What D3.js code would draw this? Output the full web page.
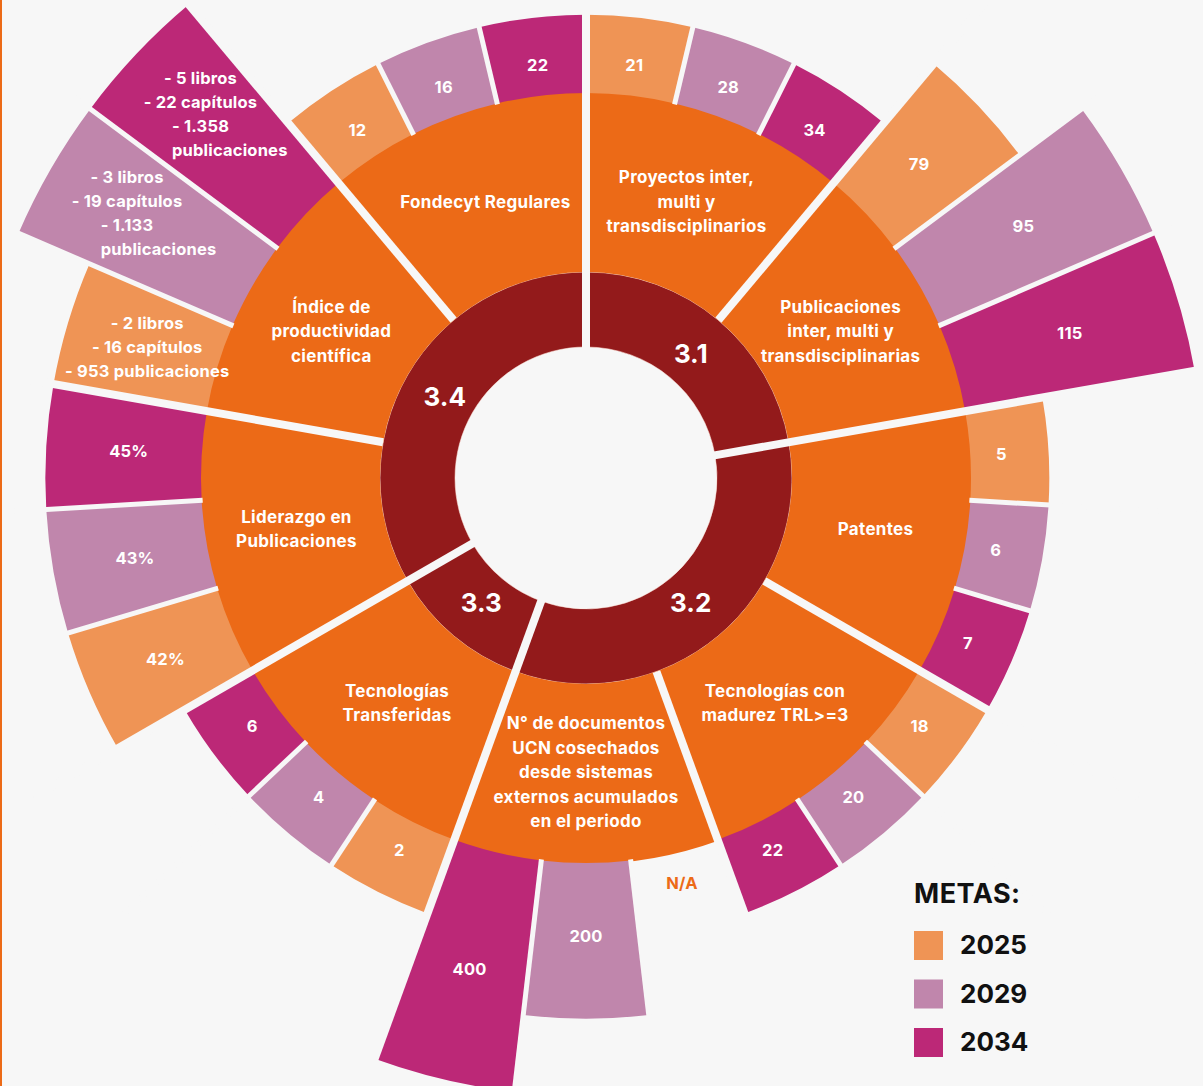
<!DOCTYPE html>
<html>
<head>
<meta charset="utf-8">
<script src="https://cdn.jsdelivr.net/npm/d3@7"></script>
<style>
  html, body { margin: 0; padding: 0; background: #f7f7f7; }
  svg { display: block; }
  text { font-family: Inter, "Open Sans", sans-serif; font-weight: 700; }
</style>
</head>
<body>
<div id="chart"></div>
<script>
// ejes estratégicos (anillo interior)
const groups = ["3.1", "3.2", "3.3", "3.4"];

// indicadores (anillo naranjo), en sentido horario desde arriba
const indicators = [
  "Proyectos", "Publicaciones", "Patentes", "TRL", "Documentos",
  "Transferidas", "Liderazgo", "Indice", "Fondecyt"
];
const indicatorGroup = ["3.1", "3.1", "3.2", "3.2", "3.2", "3.3", "3.4", "3.4", "3.4"];
const indicatorLines = [
  ["Proyectos inter,", "multi y", "transdisciplinarios"],
  ["Publicaciones", "inter, multi y", "transdisciplinarias"],
  ["Patentes"],
  ["Tecnologías con", "madurez TRL>=3"],
  ["N° de documentos", "UCN cosechados", "desde sistemas", "externos acumulados", "en el periodo"],
  ["Tecnologías", "Transferidas"],
  ["Liderazgo en", "Publicaciones"],
  ["Índice de", "productividad", "científica"],
  ["Fondecyt Regulares"]
];

// metas por año
const years = ["2025", "2029", "2034"];
const yearColors = ["#EF9455", "#C086AC", "#BC2877"];
const metas2025 = ["21", "79", "5", "18", "N/A", "2", "42%",
  ["- 2 libros", "- 16 capítulos", "- 953 publicaciones"], "12"];
const metas2029 = ["28", "95", "6", "20", "200", "4", "43%",
  ["- 3 libros", "- 19 capítulos", "- 1.133", "publicaciones"], "16"];
const metas2034 = ["34", "115", "7", "22", "400", "6", "45%",
  ["- 5 libros", "- 22 capítulos", "- 1.358", "publicaciones"], "22"];
// largo de cada barra (nivel 0 = sin barra)
const nivel2025 = [1, 2, 1, 1, 0, 1, 2, 2, 1];
const nivel2029 = [1, 3, 1, 1, 2, 1, 2, 3, 1];
const nivel2034 = [1, 3, 1, 1, 3, 1, 2, 3, 1];

const width = 1203, height = 1086;
const cx = 586, cy = 478;
const rHole = 131, rGroup = 206, rInd = 386, rMax = 618;
const bg = "#f7f7f7", orange = "#EC6A17", darkRed = "#931A1B";

const svg = d3.select("#chart").append("svg")
    .attr("width", width)
    .attr("height", height);

svg.append("rect").attr("width", width).attr("height", height).attr("fill", bg);

const g = svg.append("g").attr("transform", `translate(${cx},${cy})`);

const angle = d3.scaleBand().domain(indicators).range([0, 2 * Math.PI]);
const yearAngle = d3.scaleBand().domain(years).range([0, angle.bandwidth()]);
const radius = d3.scaleLinear().domain([0, 3]).range([rInd, rMax]);
// radio de la etiqueta dentro de cada barra
const labelRadius = d3.scaleLinear().domain([0, 1, 2, 3]).range([416, 416, 458, 505]);

const arc = d3.arc();
const polar = (r, a) => [r * Math.sin(a), -r * Math.cos(a)];

// anillo interior
const groupData = groups.map(name => {
    const idx = indicators.filter((d, i) => indicatorGroup[i] === name);
    return {
        name,
        startAngle: angle(idx[0]),
        endAngle: angle(idx[idx.length - 1]) + angle.bandwidth()
    };
});

g.append("g")
    .selectAll("path")
    .data(groupData)
    .join("path")
    .attr("d", d => arc({innerRadius: rHole, outerRadius: rGroup, startAngle: d.startAngle, endAngle: d.endAngle}))
    .attr("fill", darkRed)
    .attr("stroke", "rgba(255,230,220,0.55)")
    .attr("stroke-width", 1);

// anillo de indicadores
g.append("g")
    .selectAll("path")
    .data(indicators)
    .join("path")
    .attr("d", d => arc({innerRadius: rGroup, outerRadius: rInd, startAngle: angle(d), endAngle: angle(d) + angle.bandwidth()}))
    .attr("fill", orange);

// barras de metas
const metas = [metas2025, metas2029, metas2034];
const niveles = [nivel2025, nivel2029, nivel2034];
const bars = [];
indicators.forEach((ind, i) => {
    years.forEach((y, j) => {
        const a0 = angle(ind) + yearAngle(y);
        bars.push({
            year: j,
            label: metas[j][i],
            nivel: niveles[j][i],
            startAngle: a0,
            endAngle: a0 + yearAngle.bandwidth()
        });
    });
});

g.append("g")
    .selectAll("path")
    .data(bars.filter(d => d.nivel > 0))
    .join("path")
    .attr("d", d => arc({innerRadius: rInd - 1, outerRadius: radius(d.nivel), startAngle: d.startAngle, endAngle: d.endAngle}))
    .attr("fill", d => yearColors[d.year]);

// separadores
const dividers = [];
indicators.forEach((ind, i) => {
    const prev = indicatorGroup[(i + indicators.length - 1) % indicators.length];
    dividers.push({a: angle(ind), r0: prev !== indicatorGroup[i] ? rHole - 2 : rGroup, w: 8});
    years.slice(1).forEach(y => {
        dividers.push({a: angle(ind) + yearAngle(y), r0: rInd - 2, w: 5});
    });
});

g.append("g")
    .attr("stroke", bg)
    .selectAll("line")
    .data(dividers)
    .join("line")
    .attr("x1", d => polar(d.r0, d.a)[0])
    .attr("y1", d => polar(d.r0, d.a)[1])
    .attr("x2", d => polar(rMax + 20, d.a)[0])
    .attr("y2", d => polar(rMax + 20, d.a)[1])
    .attr("stroke-width", d => d.w);

// textos
function multiline(sel, lines, lh) {
    const n = lines.length;
    lines.forEach((line, k) => {
        sel.append("tspan")
            .attr("x", 0)
            .attr("dy", k === 0 ? (-(n - 1) / 2 * lh + 6) : lh)
            .text(line);
    });
}

g.append("g")
    .attr("fill", "#fff")
    .attr("font-size", 26)
    .attr("text-anchor", "middle")
    .selectAll("text")
    .data(groupData)
    .join("text")
    .attr("transform", d => {
        const p = polar(163, (d.startAngle + d.endAngle) / 2);
        return `translate(${p[0]},${p[1]})`;
    })
    .attr("dy", "0.36em")
    .text(d => d.name);

g.append("g")
    .attr("fill", "#fff")
    .attr("font-size", 17)
    .attr("letter-spacing", 0.3)
    .attr("text-anchor", "middle")
    .selectAll("text")
    .data(indicators)
    .join("text")
    .attr("transform", d => {
        const p = polar(294, angle(d) + angle.bandwidth() / 2);
        return `translate(${p[0]},${p[1]})`;
    })
    .each(function (d, i) {
        multiline(d3.select(this), indicatorLines[i], 24.5);
    });

g.append("g")
    .attr("font-size", 16.5)
    .attr("letter-spacing", 0.2)
    .attr("text-anchor", "middle")
    .selectAll("text")
    .data(bars)
    .join("text")
    .attr("fill", d => d.nivel > 0 ? "#fff" : orange)
    .attr("transform", d => {
        const lines = Array.isArray(d.label) ? d.label.length : 1;
        const p = polar(labelRadius(d.nivel) + (lines > 3 ? 25 : 0), (d.startAngle + d.endAngle) / 2);
        return `translate(${p[0]},${p[1]})`;
    })
    .each(function (d) {
        const lines = Array.isArray(d.label) ? d.label : [d.label];
        multiline(d3.select(this), lines, 24);
        // "publicaciones" continúa alineado a la izquierda de la línea anterior
        const spans = d3.select(this).selectAll("tspan").nodes();
        spans.forEach((s, k) => {
            if (k > 0 && !lines[k].startsWith("-")) {
                const prevLen = spans[k - 1].getComputedTextLength();
                const len = s.getComputedTextLength();
                s.setAttribute("x", -prevLen / 2 + len / 2);
            }
        });
    });

// borde izquierdo
svg.append("rect").attr("width", 2).attr("height", height).attr("fill", orange);

// leyenda
const legend = svg.append("g").attr("transform", "translate(914,903)");
legend.append("text")
    .attr("font-size", 27)
    .attr("letter-spacing", 0.5)
    .attr("fill", "#111")
    .text("METAS:");

const items = legend.selectAll("g")
    .data(years)
    .join("g")
    .attr("transform", (d, i) => `translate(0,${28 + i * 48.5})`);
items.append("rect")
    .attr("width", 29)
    .attr("height", 29)
    .attr("fill", (d, i) => yearColors[i]);
items.append("text")
    .attr("x", 46)
    .attr("y", 23)
    .attr("font-size", 26)
    .attr("fill", "#111")
    .text(d => d);
</script>
</body>
</html>
